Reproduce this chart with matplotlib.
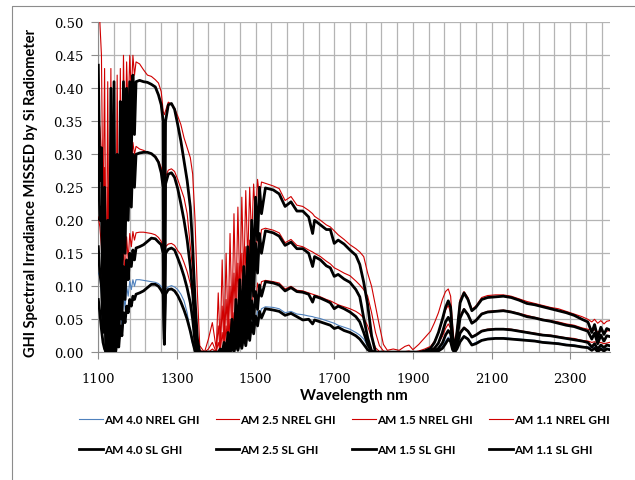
import matplotlib
matplotlib.use("Agg")
import matplotlib.pyplot as plt
from matplotlib.lines import Line2D

# wavelength grid (nm)
wl = [
    1100, 1104, 1108, 1112, 1116, 1120, 1124, 1128, 1132, 1136, 1140, 1144, 1148, 1152, 1156, 1160,
    1164, 1168, 1172, 1176, 1180, 1184, 1188, 1192, 1196,
    1205, 1215, 1225, 1235, 1245, 1253, 1260, 1265, 1268, 1271, 1278, 1286, 1294, 1302, 1310, 1318,
    1326, 1334, 1340, 1346, 1352, 1358,
    1370, 1380, 1390, 1400, 1405, 1410, 1415, 1420, 1425, 1430, 1435, 1440, 1445, 1450, 1455, 1460,
    1465, 1470, 1475, 1480, 1485, 1490, 1495, 1500, 1505, 1510, 1515,
    1525, 1545, 1560, 1575, 1590, 1605, 1620, 1635, 1645, 1650, 1665, 1680, 1690, 1700, 1710, 1725,
    1740, 1755, 1765, 1775, 1785, 1795, 1805, 1815, 1825,
    1835, 1850, 1865, 1880, 1890, 1900, 1915, 1930, 1945, 1955, 1965, 1975, 1983, 1990, 1996, 2001,
    2006, 2012, 2020, 2030, 2040, 2050, 2060, 2075, 2090,
    2110, 2130, 2150, 2170, 2190, 2210, 2230, 2250, 2270, 2290, 2310, 2330, 2345, 2355, 2362, 2370,
    2378, 2386, 2393, 2400,
]

# NREL modelled spectra
am11_nrel = [
    0.52, 0.50, 0.45, 0.20, 0.43, 0.06, 0.41, 0.02, 0.43, 0.01, 0.39, 0.03, 0.42, 0.12, 0.43, 0.22,
    0.45, 0.30, 0.44, 0.36, 0.45, 0.39, 0.45, 0.42, 0.44,
    0.437, 0.428, 0.42, 0.418, 0.413, 0.408, 0.395, 0.365, 0.36, 0.366, 0.379, 0.376, 0.37, 0.358, 0.345, 0.325,
    0.31, 0.295, 0.27, 0.20, 0.09, 0.01,
    0.0, 0.02, 0.045, 0.005, 0.09, 0.01, 0.14, 0.02, 0.15, 0.03, 0.18, 0.05, 0.21, 0.07, 0.22, 0.09,
    0.235, 0.11, 0.245, 0.14, 0.25, 0.17, 0.255, 0.20, 0.262, 0.235, 0.258,
    0.256, 0.252, 0.248, 0.23, 0.236, 0.223, 0.221, 0.215, 0.21, 0.206, 0.20, 0.193, 0.19, 0.184, 0.178, 0.171,
    0.163, 0.157, 0.152, 0.145, 0.12, 0.10, 0.07, 0.04, 0.012,
    0.003, 0.005, 0.003, 0.009, 0.011, 0.004, 0.012, 0.022, 0.032, 0.045, 0.06, 0.08, 0.092, 0.096, 0.085, 0.04,
    0.012, 0.035, 0.08, 0.092, 0.083, 0.065, 0.07, 0.083, 0.086,
    0.087, 0.087, 0.085, 0.081, 0.077, 0.074, 0.071, 0.068, 0.066, 0.062, 0.058, 0.054, 0.05, 0.046, 0.05, 0.044,
    0.048, 0.043, 0.047, 0.048,
]
am15_nrel = [
    0.36, 0.34, 0.30, 0.12, 0.28, 0.03, 0.25, 0.01, 0.27, 0.0, 0.24, 0.01, 0.27, 0.07, 0.30, 0.14,
    0.32, 0.20, 0.315, 0.25, 0.32, 0.28, 0.318, 0.30, 0.312,
    0.308, 0.306, 0.303, 0.301, 0.297, 0.29, 0.28, 0.265, 0.262, 0.266, 0.276, 0.278, 0.274, 0.262, 0.248, 0.234,
    0.21, 0.16, 0.125, 0.08, 0.025, 0.003,
    0.0, 0.005, 0.015, 0.0, 0.04, 0.0, 0.07, 0.005, 0.08, 0.01, 0.10, 0.02, 0.12, 0.035, 0.135, 0.05,
    0.15, 0.065, 0.16, 0.085, 0.17, 0.11, 0.178, 0.135, 0.185, 0.16, 0.186,
    0.188, 0.185, 0.181, 0.166, 0.171, 0.162, 0.16, 0.155, 0.152, 0.15, 0.145, 0.138, 0.134, 0.128, 0.125, 0.12,
    0.116, 0.108, 0.102, 0.095, 0.085, 0.06, 0.03, 0.01, 0.002,
    0.0, 0.0, 0.0, 0.001, 0.002, 0.0, 0.002, 0.005, 0.009, 0.017, 0.03, 0.048, 0.064, 0.071, 0.06, 0.025,
    0.006, 0.025, 0.056, 0.066, 0.058, 0.045, 0.049, 0.059, 0.062,
    0.063, 0.064, 0.062, 0.059, 0.056, 0.053, 0.05, 0.048, 0.046, 0.043, 0.041, 0.037, 0.035, 0.033, 0.034, 0.031,
    0.033, 0.03, 0.032, 0.033,
]
am25_nrel = [
    0.205, 0.19, 0.16, 0.06, 0.14, 0.01, 0.11, 0.0, 0.12, 0.0, 0.10, 0.0, 0.13, 0.03, 0.15, 0.07,
    0.17, 0.11, 0.175, 0.14, 0.18, 0.16, 0.183, 0.17, 0.181,
    0.182, 0.182, 0.181, 0.18, 0.178, 0.174, 0.168, 0.16, 0.158, 0.16, 0.164, 0.165, 0.162, 0.154, 0.148, 0.136,
    0.122, 0.104, 0.085, 0.045, 0.008, 0.0,
    0.0, 0.0, 0.005, 0.0, 0.015, 0.0, 0.03, 0.0, 0.04, 0.005, 0.05, 0.01, 0.06, 0.015, 0.07, 0.025,
    0.08, 0.035, 0.088, 0.045, 0.095, 0.06, 0.10, 0.075, 0.105, 0.09, 0.107,
    0.109, 0.107, 0.105, 0.096, 0.10, 0.094, 0.093, 0.09, 0.088, 0.087, 0.084, 0.08, 0.078, 0.075, 0.072, 0.069,
    0.066, 0.062, 0.058, 0.052, 0.04, 0.022, 0.007, 0.001, 0.0,
    0.0, 0.0, 0.0, 0.0, 0.0, 0.0, 0.0, 0.001, 0.003, 0.007, 0.014, 0.024, 0.036, 0.043, 0.036, 0.014,
    0.002, 0.012, 0.031, 0.038, 0.033, 0.024, 0.027, 0.033, 0.035,
    0.036, 0.036, 0.035, 0.033, 0.031, 0.029, 0.027, 0.026, 0.024, 0.022, 0.021, 0.018, 0.017, 0.015, 0.016, 0.014,
    0.015, 0.013, 0.014, 0.015,
]
am40_nrel = [
    0.12, 0.115, 0.09, 0.03, 0.07, 0.005, 0.05, 0.0, 0.05, 0.0, 0.045, 0.0, 0.06, 0.015, 0.08, 0.04,
    0.095, 0.065, 0.10, 0.085, 0.108, 0.095, 0.11, 0.10, 0.11,
    0.11, 0.109, 0.108, 0.107, 0.106, 0.104, 0.10, 0.096, 0.094, 0.095, 0.099, 0.101, 0.099, 0.095, 0.088, 0.078,
    0.06, 0.03, 0.012, 0.003, 0.0, 0.0,
    0.0, 0.0, 0.0, 0.0, 0.0, 0.0, 0.005, 0.0, 0.01, 0.0, 0.015, 0.003, 0.022, 0.006, 0.03, 0.012,
    0.038, 0.018, 0.045, 0.025, 0.052, 0.034, 0.058, 0.045, 0.063, 0.055, 0.066,
    0.069, 0.068, 0.066, 0.06, 0.062, 0.058, 0.057, 0.055, 0.054, 0.053, 0.051, 0.048, 0.046, 0.044, 0.041, 0.038,
    0.035, 0.03, 0.026, 0.02, 0.01, 0.002, 0.0, 0.0, 0.0,
    0.0, 0.0, 0.0, 0.0, 0.0, 0.0, 0.0, 0.0, 0.0, 0.001, 0.004, 0.009, 0.017, 0.023, 0.019, 0.006,
    0.0, 0.006, 0.018, 0.025, 0.021, 0.012, 0.015, 0.019, 0.021,
    0.022, 0.022, 0.021, 0.02, 0.019, 0.018, 0.016, 0.015, 0.014, 0.012, 0.011, 0.009, 0.008, 0.007, 0.008, 0.006,
    0.007, 0.005, 0.006, 0.006,
]

# SL measured spectra
am11_sl = [
    0.435, 0.26, 0.31, 0.10, 0.25, 0.01, 0.20, 0.0, 0.40, 0.0, 0.41, 0.01, 0.30, 0.06, 0.38, 0.14,
    0.41, 0.20, 0.40, 0.27, 0.41, 0.30, 0.42, 0.33, 0.41,
    0.412, 0.41, 0.409, 0.406, 0.402, 0.39, 0.375, 0.35, 0.02, 0.35, 0.375, 0.377, 0.368, 0.345, 0.32, 0.29,
    0.26, 0.22, 0.16, 0.08, 0.02, 0.0,
    0.0, 0.0, 0.0, 0.0, 0.0, 0.005, 0.0, 0.015, 0.0, 0.03, 0.005, 0.05, 0.01, 0.08, 0.02, 0.11,
    0.03, 0.13, 0.05, 0.16, 0.08, 0.20, 0.12, 0.235, 0.17, 0.25, 0.21,
    0.249, 0.246, 0.24, 0.221, 0.228, 0.214, 0.214, 0.205, 0.18, 0.20, 0.193, 0.186, 0.186, 0.165, 0.17, 0.164,
    0.155, 0.147, 0.133, 0.106, 0.072, 0.025, 0.0, 0.0, 0.0,
    0.0, 0.0, 0.0, 0.0, 0.0, 0.0, 0.0, 0.002, 0.006, 0.015, 0.03, 0.05, 0.068, 0.078, 0.068, 0.025,
    0.004, 0.03, 0.075, 0.09, 0.08, 0.063, 0.068, 0.08, 0.083,
    0.084, 0.085, 0.083, 0.079, 0.074, 0.072, 0.069, 0.066, 0.063, 0.06, 0.056, 0.05, 0.046, 0.03, 0.042, 0.022,
    0.038, 0.027, 0.036, 0.034,
]
am15_sl = [
    0.30, 0.20, 0.22, 0.06, 0.17, 0.0, 0.12, 0.0, 0.22, 0.0, 0.25, 0.0, 0.20, 0.03, 0.27, 0.10,
    0.32, 0.15, 0.29, 0.20, 0.30, 0.22, 0.30, 0.25, 0.30,
    0.302, 0.303, 0.303, 0.301, 0.296, 0.288, 0.272, 0.25, 0.015, 0.255, 0.27, 0.272, 0.265, 0.248, 0.225, 0.20,
    0.17, 0.13, 0.09, 0.04, 0.005, 0.0,
    0.0, 0.0, 0.0, 0.0, 0.0, 0.0, 0.0, 0.008, 0.0, 0.018, 0.002, 0.032, 0.005, 0.05, 0.012, 0.075,
    0.02, 0.09, 0.035, 0.11, 0.055, 0.14, 0.085, 0.165, 0.12, 0.18, 0.15,
    0.184, 0.181, 0.176, 0.162, 0.167, 0.157, 0.157, 0.15, 0.13, 0.145, 0.14, 0.131, 0.128, 0.115, 0.118, 0.111,
    0.106, 0.095, 0.084, 0.052, 0.022, 0.002, 0.0, 0.0, 0.0,
    0.0, 0.0, 0.0, 0.0, 0.0, 0.0, 0.0, 0.0, 0.002, 0.006, 0.014, 0.03, 0.046, 0.053, 0.046, 0.015,
    0.002, 0.02, 0.052, 0.065, 0.057, 0.044, 0.048, 0.058, 0.061,
    0.062, 0.063, 0.061, 0.058, 0.054, 0.052, 0.049, 0.047, 0.044, 0.041, 0.039, 0.035, 0.032, 0.02, 0.029, 0.013,
    0.026, 0.017, 0.025, 0.024,
]
am25_sl = [
    0.16, 0.12, 0.10, 0.03, 0.07, 0.0, 0.03, 0.0, 0.05, 0.0, 0.06, 0.0, 0.08, 0.02, 0.10, 0.05,
    0.13, 0.08, 0.14, 0.11, 0.15, 0.13, 0.155, 0.14, 0.158,
    0.16, 0.163, 0.168, 0.173, 0.172, 0.167, 0.163, 0.15, 0.02, 0.15, 0.156, 0.158, 0.155, 0.143, 0.13, 0.115,
    0.097, 0.075, 0.05, 0.015, 0.0, 0.0,
    0.0, 0.0, 0.0, 0.0, 0.0, 0.0, 0.0, 0.003, 0.0, 0.008, 0.0, 0.015, 0.002, 0.025, 0.005, 0.038,
    0.01, 0.05, 0.018, 0.062, 0.03, 0.078, 0.045, 0.092, 0.065, 0.102, 0.085,
    0.107, 0.105, 0.102, 0.093, 0.098, 0.092, 0.091, 0.088, 0.076, 0.085, 0.082, 0.078, 0.075, 0.066, 0.07, 0.066,
    0.061, 0.054, 0.046, 0.03, 0.012, 0.001, 0.0, 0.0, 0.0,
    0.0, 0.0, 0.0, 0.0, 0.0, 0.0, 0.0, 0.0, 0.0, 0.002, 0.006, 0.014, 0.026, 0.033, 0.028, 0.008,
    0.001, 0.01, 0.029, 0.037, 0.032, 0.023, 0.026, 0.032, 0.034,
    0.035, 0.035, 0.034, 0.032, 0.03, 0.028, 0.026, 0.025, 0.023, 0.021, 0.019, 0.017, 0.015, 0.008, 0.013, 0.005,
    0.011, 0.007, 0.011, 0.01,
]
am40_sl = [
    0.08, 0.06, 0.035, 0.015, 0.005, 0.0, 0.0, 0.0, 0.0, 0.0, 0.003, 0.0, 0.02, 0.008, 0.04, 0.025,
    0.06, 0.045, 0.07, 0.06, 0.08, 0.07, 0.085, 0.08, 0.088,
    0.09, 0.093, 0.098, 0.103, 0.103, 0.10, 0.094, 0.088, 0.012, 0.088, 0.095, 0.096, 0.093, 0.086, 0.076, 0.064,
    0.05, 0.032, 0.016, 0.002, 0.0, 0.0,
    0.0, 0.0, 0.0, 0.0, 0.0, 0.0, 0.0, 0.001, 0.0, 0.004, 0.0, 0.008, 0.001, 0.014, 0.003, 0.02,
    0.006, 0.028, 0.01, 0.035, 0.018, 0.045, 0.028, 0.055, 0.04, 0.062, 0.052,
    0.066, 0.064, 0.062, 0.056, 0.059, 0.054, 0.049, 0.05, 0.043, 0.049, 0.046, 0.043, 0.041, 0.036, 0.038, 0.033,
    0.03, 0.025, 0.02, 0.012, 0.004, 0.0, 0.0, 0.0, 0.0,
    0.0, 0.0, 0.0, 0.0, 0.0, 0.0, 0.0, 0.0, 0.0, 0.0, 0.002, 0.006, 0.013, 0.02, 0.016, 0.004,
    0.0, 0.005, 0.016, 0.024, 0.02, 0.011, 0.013, 0.018, 0.02,
    0.021, 0.021, 0.02, 0.019, 0.018, 0.017, 0.015, 0.014, 0.013, 0.011, 0.01, 0.008, 0.007, 0.003, 0.006, 0.001,
    0.005, 0.002, 0.005, 0.004,
]

x_major = list(range(1100, 2401, 200))
x_minor = list(range(1100, 2401, 40))

nrel_series = [
    ("AM 4.0 NREL GHI", am40_nrel, "#4f81bd"),
    ("AM 2.5 NREL GHI", am25_nrel, "#d00000"),
    ("AM 1.5 NREL GHI", am15_nrel, "#d00000"),
    ("AM 1.1 NREL GHI", am11_nrel, "#d00000"),
]
sl_series = [
    ("AM 4.0 SL GHI", am40_sl),
    ("AM 2.5 SL GHI", am25_sl),
    ("AM 1.5 SL GHI", am15_sl),
    ("AM 1.1 SL GHI", am11_sl),
]

label_font = ["Lato", "DejaVu Sans"]

fig = plt.figure(figsize=(6.35, 4.81), dpi=100)
ax = fig.add_axes([98.3 / 635, 1 - 353.3 / 481, (609.5 - 98.3) / 635, 330 / 481])

nrel_h = []
for name, vals, c in nrel_series:
    h, = ax.plot(wl, vals, color=c, lw=0.8, label=name, zorder=3)
    nrel_h.append(h)
sl_h = []
for name, vals in sl_series:
    h, = ax.plot(wl, vals, color="black", lw=2.0, label=name, zorder=4)
    sl_h.append(h)

ax.set_xlim(1100, 2400)
ax.set_ylim(0, 0.5)
ax.set_xticks(x_major)
ax.set_xticks(x_minor, minor=True)
ax.set_yticks([i * 0.05 for i in range(11)])
ax.yaxis.set_major_formatter(plt.FormatStrFormatter("%.2f"))
ax.grid(True, which="both", axis="x", color="#b4b4b4", lw=0.9)
ax.grid(True, which="major", axis="y", color="#b4b4b4", lw=0.9)
ax.set_axisbelow(True)
ax.tick_params(which="minor", length=0)
ax.tick_params(which="major", length=5, width=0.8, color="#8c8c8c", direction="out",
               labelfontfamily="DejaVu Serif", labelsize=9.5)
ax.tick_params(axis="x", pad=9)
ax.tick_params(axis="y", pad=6)
for s in ["top", "right"]:
    ax.spines[s].set_visible(False)
for s in ["left", "bottom"]:
    ax.spines[s].set_color("#8c8c8c")
    ax.spines[s].set_linewidth(0.8)

ax.set_ylabel("GHI Spectrral Irradiance MISSED by Si Radiometer", fontfamily=label_font,
              fontweight="bold", fontsize=10.5)
ax.yaxis.set_label_coords(-0.118, 0.487)
ax.set_xlabel("Wavelength nm", fontfamily=label_font, fontweight="bold", fontsize=11, labelpad=2)

# legend fills column by column: NREL on the first row, SL on the second
leg_h = []
for a, b in zip(nrel_h, sl_h):
    leg_h += [a, b]
fig.legend(handles=leg_h, ncol=4, loc="upper left", bbox_to_anchor=(79 / 635, 1 - 415 / 481),
           frameon=False, prop={"family": label_font, "weight": "bold", "size": 8.5},
           handlelength=2.0, handletextpad=0.1, columnspacing=1.38, labelspacing=1.65,
           borderpad=0, borderaxespad=0)

# outer chart border (partly cut off)
fig.add_artist(Line2D([12 / 635, 12 / 635, 1], [0, 1 - 7 / 481, 1 - 7 / 481],
                      transform=fig.transFigure, color="#8c8c8c", lw=0.8))

fig.savefig("out.png", dpi=100)
